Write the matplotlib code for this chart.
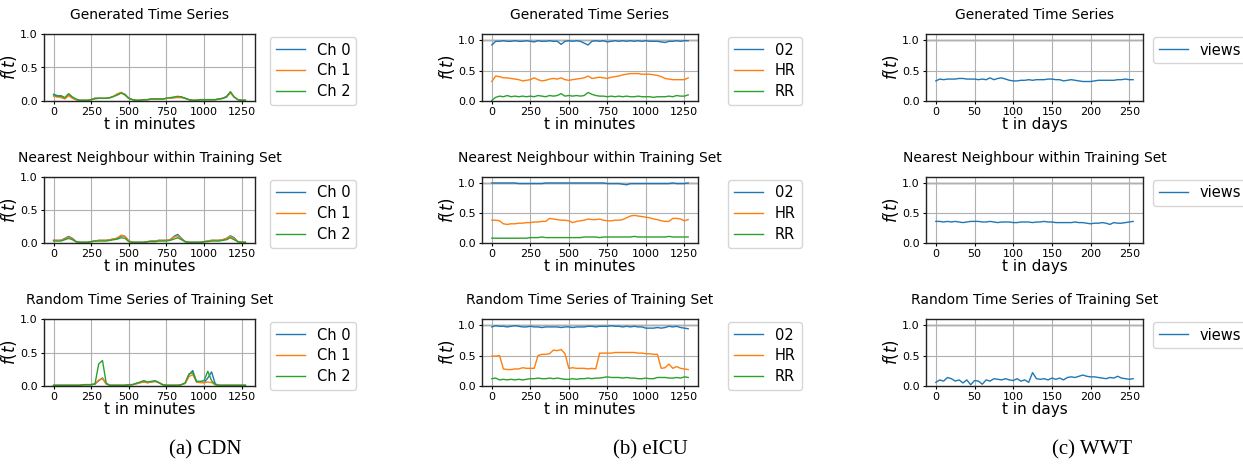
import matplotlib
matplotlib.use("Agg")
import matplotlib.pyplot as plt

# time axes (sampled every 25 minutes / 5 days)
t_min = list(range(0, 1276, 25))
t_days = list(range(0, 256, 5))

# --- CDN ---
cdn_labels = ["Ch 0", "Ch 1", "Ch 2"]
cdn_gen_ch0 = [0.10,0.08,0.07,0.04,0.09,0.05,0.02,0.01,0.01,0.01, 0.02,0.04,0.04,0.04,0.04,0.05,0.07,0.10,0.12,0.10,
               0.04,0.02,0.01,0.01,0.02,0.02,0.03,0.03,0.03,0.03, 0.04,0.04,0.05,0.06,0.06,0.04,0.02,0.01,0.01,0.02,
               0.02,0.02,0.02,0.02,0.03,0.04,0.07,0.13,0.06,0.02, 0.01,0.01]
cdn_gen_ch1 = [0.07,0.06,0.05,0.03,0.08,0.04,0.02,0.01,0.01,0.01, 0.02,0.03,0.04,0.04,0.04,0.05,0.07,0.11,0.13,0.09,
               0.04,0.02,0.01,0.01,0.02,0.02,0.03,0.03,0.03,0.03, 0.04,0.04,0.05,0.05,0.05,0.04,0.02,0.01,0.01,0.02,
               0.02,0.02,0.02,0.02,0.03,0.04,0.06,0.12,0.06,0.02, 0.01,0.01]
cdn_gen_ch2 = [0.09,0.07,0.08,0.05,0.11,0.06,0.03,0.01,0.01,0.01, 0.02,0.04,0.04,0.04,0.04,0.05,0.07,0.09,0.12,0.09,
               0.04,0.02,0.01,0.01,0.02,0.02,0.03,0.03,0.03,0.03, 0.04,0.05,0.06,0.07,0.06,0.04,0.02,0.01,0.01,0.02,
               0.02,0.02,0.02,0.02,0.03,0.04,0.06,0.14,0.06,0.02, 0.01,0.01]

cdn_nn_ch0 = [0.04,0.04,0.04,0.07,0.10,0.07,0.02,0.01,0.01,0.01, 0.02,0.03,0.04,0.04,0.04,0.05,0.06,0.07,0.11,0.10,
              0.03,0.01,0.01,0.01,0.01,0.02,0.03,0.03,0.04,0.04, 0.04,0.05,0.10,0.13,0.07,0.02,0.01,0.01,0.01,0.01,
              0.02,0.03,0.04,0.04,0.04,0.05,0.07,0.11,0.08,0.02, 0.01,0.01]
cdn_nn_ch1 = [0.04,0.04,0.04,0.06,0.09,0.06,0.02,0.01,0.01,0.01, 0.02,0.03,0.04,0.04,0.04,0.05,0.06,0.08,0.12,0.10,
              0.03,0.01,0.01,0.01,0.01,0.02,0.03,0.03,0.04,0.04, 0.04,0.05,0.09,0.11,0.06,0.02,0.01,0.01,0.01,0.01,
              0.02,0.03,0.04,0.04,0.04,0.05,0.07,0.10,0.07,0.02, 0.01,0.01]
cdn_nn_ch2 = [0.03,0.03,0.03,0.05,0.07,0.05,0.02,0.01,0.01,0.01, 0.02,0.03,0.03,0.03,0.03,0.04,0.05,0.06,0.08,0.07,
              0.02,0.01,0.01,0.01,0.01,0.02,0.02,0.02,0.03,0.03, 0.03,0.04,0.06,0.08,0.05,0.02,0.01,0.01,0.01,0.01,
              0.02,0.02,0.03,0.03,0.03,0.04,0.05,0.08,0.05,0.02, 0.01,0.01]

cdn_rand_ch0 = [0.01,0.01,0.01,0.01,0.01,0.01,0.01,0.01,0.02,0.02, 0.02,0.03,0.08,0.12,0.03,0.01,0.01,0.01,0.01,0.01,
                0.02,0.02,0.04,0.05,0.06,0.05,0.06,0.07,0.05,0.02, 0.01,0.01,0.01,0.01,0.02,0.04,0.17,0.23,0.06,0.06,
                0.05,0.12,0.21,0.03,0.01,0.01,0.01,0.01,0.01,0.01, 0.01,0.01]
cdn_rand_ch1 = [0.01,0.01,0.01,0.01,0.01,0.01,0.01,0.01,0.02,0.02, 0.02,0.03,0.09,0.11,0.03,0.01,0.01,0.01,0.01,0.01,
                0.02,0.02,0.03,0.05,0.06,0.05,0.06,0.07,0.05,0.02, 0.01,0.01,0.01,0.01,0.02,0.04,0.14,0.17,0.06,0.05,
                0.05,0.06,0.05,0.02,0.01,0.01,0.01,0.01,0.01,0.01, 0.01,0.01]
cdn_rand_ch2 = [0.01,0.01,0.01,0.01,0.01,0.01,0.01,0.01,0.02,0.02, 0.02,0.03,0.33,0.38,0.04,0.01,0.01,0.01,0.01,0.01,
                0.02,0.02,0.04,0.06,0.08,0.06,0.07,0.08,0.05,0.02, 0.01,0.01,0.01,0.01,0.02,0.05,0.18,0.20,0.07,0.07,
                0.08,0.22,0.08,0.02,0.01,0.01,0.01,0.01,0.01,0.01, 0.01,0.01]

# --- eICU ---
eicu_labels = ["02", "HR", "RR"]
eicu_gen_o2 = [0.92,0.98,0.98,0.99,0.98,0.98,0.99,0.98,0.98,0.99, 0.98,0.97,0.99,0.98,0.98,0.99,0.98,0.98,0.93,0.98,
               0.99,0.98,0.99,0.98,0.95,0.92,0.98,0.99,0.98,0.99, 0.97,0.98,0.99,0.98,0.99,0.98,0.99,0.98,0.99,0.98,
               0.99,0.98,0.98,0.98,0.97,0.96,0.98,0.98,0.99,0.98, 0.99,0.99]
eicu_gen_hr = [0.32,0.41,0.40,0.38,0.38,0.37,0.36,0.35,0.33,0.34, 0.35,0.38,0.35,0.33,0.34,0.36,0.37,0.36,0.38,0.35,
               0.34,0.35,0.36,0.37,0.38,0.41,0.37,0.38,0.39,0.38, 0.37,0.39,0.40,0.41,0.43,0.44,0.45,0.45,0.45,0.44,
               0.44,0.44,0.43,0.42,0.40,0.37,0.36,0.35,0.35,0.35, 0.35,0.38]
eicu_gen_rr = [0.01,0.06,0.08,0.07,0.09,0.07,0.08,0.07,0.08,0.07, 0.08,0.07,0.09,0.08,0.07,0.09,0.08,0.09,0.12,0.08,
               0.09,0.08,0.09,0.08,0.09,0.14,0.11,0.09,0.08,0.08, 0.07,0.08,0.07,0.08,0.07,0.08,0.07,0.07,0.08,0.07,
               0.07,0.07,0.06,0.07,0.07,0.07,0.08,0.07,0.09,0.08, 0.08,0.10]

eicu_nn_o2 = [1.00,1.00,1.00,1.00,1.00,1.00,1.00,0.99,0.99,0.99, 0.99,0.99,0.99,0.99,1.00,1.00,1.00,1.00,1.00,1.00,
              1.00,1.00,1.00,1.00,1.00,1.00,1.00,1.00,1.00,1.00, 0.99,0.99,0.99,0.99,0.98,0.97,0.99,0.99,0.99,0.99,
              0.99,0.99,0.99,0.99,0.99,0.99,0.99,1.00,0.99,0.99, 0.99,1.00]
eicu_nn_hr = [0.38,0.38,0.37,0.32,0.31,0.32,0.32,0.33,0.33,0.34, 0.34,0.35,0.35,0.36,0.36,0.41,0.40,0.39,0.38,0.38,
              0.37,0.34,0.36,0.37,0.38,0.40,0.39,0.39,0.40,0.38, 0.37,0.37,0.38,0.38,0.39,0.42,0.45,0.46,0.45,0.44,
              0.43,0.42,0.40,0.39,0.37,0.36,0.36,0.41,0.41,0.40, 0.37,0.39]
eicu_nn_rr = [0.08,0.08,0.08,0.08,0.08,0.08,0.08,0.08,0.08,0.08, 0.09,0.09,0.09,0.10,0.09,0.09,0.09,0.09,0.09,0.09,
              0.09,0.09,0.09,0.09,0.10,0.10,0.10,0.10,0.09,0.10, 0.10,0.10,0.10,0.10,0.10,0.10,0.10,0.11,0.10,0.10,
              0.10,0.10,0.10,0.10,0.10,0.10,0.11,0.10,0.10,0.10, 0.10,0.10]

eicu_rand_o2 = [0.97,0.99,0.98,0.98,0.97,0.98,0.99,0.98,0.97,0.97, 0.98,0.97,0.97,0.96,0.97,0.97,0.97,0.97,0.96,0.97,
                0.97,0.96,0.97,0.97,0.97,0.98,0.98,0.97,0.98,0.98, 0.98,0.99,0.98,0.98,0.97,0.98,0.97,0.98,0.97,0.97,
                0.95,0.95,0.95,0.96,0.95,0.96,0.98,0.97,0.98,0.96, 0.95,0.94]
eicu_rand_hr = [0.49,0.49,0.50,0.28,0.27,0.27,0.28,0.28,0.30,0.29, 0.29,0.29,0.50,0.52,0.52,0.53,0.59,0.58,0.60,0.53,
                0.29,0.30,0.29,0.29,0.29,0.28,0.29,0.28,0.54,0.54, 0.54,0.54,0.55,0.55,0.55,0.55,0.55,0.55,0.54,0.54,
                0.53,0.53,0.52,0.52,0.29,0.30,0.36,0.29,0.32,0.29, 0.28,0.27]
eicu_rand_rr = [0.12,0.13,0.10,0.11,0.10,0.11,0.10,0.11,0.10,0.11, 0.12,0.12,0.13,0.12,0.12,0.13,0.12,0.13,0.12,0.11,
                0.11,0.12,0.11,0.12,0.12,0.13,0.12,0.13,0.13,0.14, 0.15,0.14,0.14,0.14,0.13,0.14,0.13,0.13,0.12,0.12,
                0.13,0.12,0.12,0.14,0.14,0.14,0.13,0.13,0.14,0.13, 0.15,0.14]

# --- WWT ---
wwt_labels = ["views"]
wwt_gen = [0.33,0.36,0.35,0.36,0.36,0.36,0.37,0.37,0.36,0.36, 0.36,0.35,0.36,0.35,0.38,0.35,0.37,0.38,0.36,0.34,
           0.33,0.33,0.34,0.34,0.35,0.34,0.35,0.35,0.35,0.36, 0.36,0.35,0.35,0.33,0.34,0.35,0.34,0.33,0.32,0.32,
           0.32,0.33,0.34,0.34,0.34,0.34,0.34,0.35,0.35,0.36, 0.35,0.35]
wwt_nn = [0.36,0.36,0.35,0.36,0.35,0.36,0.35,0.34,0.35,0.36, 0.36,0.36,0.35,0.35,0.36,0.35,0.34,0.35,0.35,0.35,
          0.34,0.34,0.35,0.35,0.35,0.34,0.35,0.35,0.36,0.35, 0.35,0.34,0.34,0.34,0.34,0.34,0.35,0.34,0.34,0.33,
          0.32,0.33,0.33,0.34,0.33,0.31,0.34,0.33,0.33,0.34, 0.35,0.36]
wwt_rand = [0.06,0.10,0.08,0.14,0.12,0.08,0.10,0.05,0.10,0.02, 0.09,0.08,0.03,0.10,0.08,0.12,0.11,0.10,0.12,0.10,
            0.09,0.12,0.08,0.10,0.06,0.22,0.12,0.11,0.12,0.10, 0.13,0.11,0.13,0.10,0.14,0.15,0.14,0.16,0.18,0.16,
            0.15,0.15,0.14,0.13,0.12,0.14,0.13,0.16,0.13,0.12, 0.11,0.12]

row_titles = ["Generated Time Series", "Nearest Neighbour within Training Set",
              "Random Time Series of Training Set"]
captions = ["(a) CDN", "(b) eICU", "(c) WWT"]

colors = ["#1f77b4", "#ff7f0e", "#2ca02c"]

fig = plt.figure(figsize=(12.43, 4.65), dpi=100)

# axes positions in pixels (left, width) per column and (top, bottom) per row
W, H = 1243, 465
col_px = [(44, 211), (482, 216), (926, 217)]
row_px = [(34, 101), (177, 243), (319, 386)]
leg_x = [1.071, 1.139, 1.046]

columns = [
    dict(t=t_min, labels=cdn_labels, xlabel="t in minutes", ylim=(0, 1.0),
         rows=[[cdn_gen_ch0, cdn_gen_ch1, cdn_gen_ch2],
               [cdn_nn_ch0, cdn_nn_ch1, cdn_nn_ch2],
               [cdn_rand_ch0, cdn_rand_ch1, cdn_rand_ch2]]),
    dict(t=t_min, labels=eicu_labels, xlabel="t in minutes", ylim=(0, 1.1),
         rows=[[eicu_gen_o2, eicu_gen_hr, eicu_gen_rr],
               [eicu_nn_o2, eicu_nn_hr, eicu_nn_rr],
               [eicu_rand_o2, eicu_rand_hr, eicu_rand_rr]]),
    dict(t=t_days, labels=wwt_labels, xlabel="t in days", ylim=(0, 1.1),
         rows=[[wwt_gen], [wwt_nn], [wwt_rand]]),
]

for c, col in enumerate(columns):
    left, width = col_px[c]
    for r in range(3):
        top, bottom = row_px[r]
        ax = fig.add_axes([left / W, 1 - bottom / H, width / W, (bottom - top) / H])
        for k, series in enumerate(col["rows"][r]):
            ax.plot(col["t"], series, color=colors[k], lw=1.0, label=col["labels"][k])
        ax.set_ylim(*col["ylim"])
        ax.set_yticks([0.0, 0.5, 1.0])
        if col["ylim"][1] > 1.0:
            ax.axhline(1.0, color="#dadada", lw=2.0, zorder=0)
        if c < 2:
            ax.set_xticks([0, 250, 500, 750, 1000, 1250])
        else:
            ax.set_xticks([0, 50, 100, 150, 200, 250])
        ax.grid(True, color="#b0b0b0", lw=0.8)
        ax.tick_params(labelsize=8, length=2.5, width=0.8, pad=2)
        for sp in ax.spines.values():
            sp.set_linewidth(1.0)
            sp.set_color("#222222")
        ax.set_title(row_titles[r], fontsize=10, pad=11)
        ax.set_xlabel(col["xlabel"], fontsize=11, labelpad=0)
        ax.set_ylabel("$f(t)$", fontsize=12, labelpad=1)
        ax.legend(loc="upper left", bbox_to_anchor=(leg_x[c], 0.96), borderaxespad=0,
                  fontsize=10.5, labelspacing=0.4, handlelength=2.0)

cap_x = [205, 650, 1092]
for c in range(3):
    fig.text(cap_x[c] / W, 1 - 450 / H, captions[c], ha="center", va="center",
             fontsize=15, family="Liberation Serif")

fig.savefig("out.png", dpi=100)
